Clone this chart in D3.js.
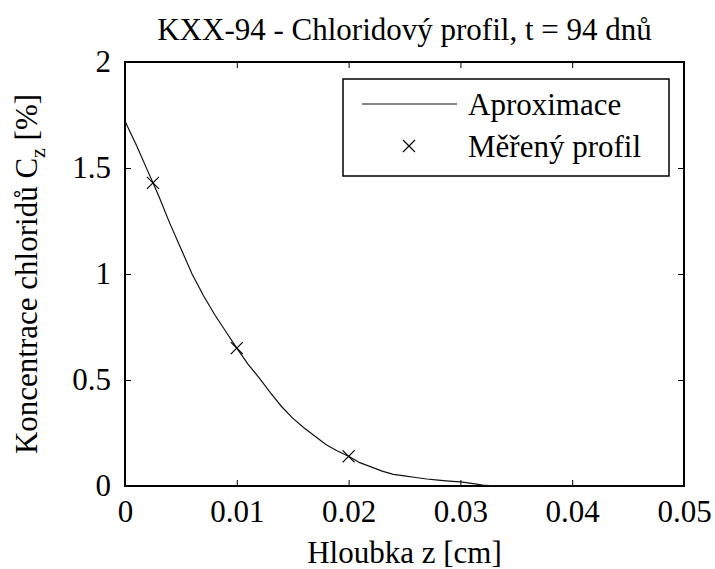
<!DOCTYPE html>
<html>
<head>
<meta charset="utf-8">
<script src="https://cdn.jsdelivr.net/npm/d3@7"></script>
<style>
  body { margin: 0; background: #fff; }
</style>
</head>
<body>
<div id="chart"></div>
<script>
// approximation curve
var approxX = [0, 0.001, 0.002, 0.0025, 0.003, 0.004, 0.005, 0.006, 0.007, 0.008, 0.009, 0.010,
  0.011, 0.012, 0.013, 0.014, 0.015, 0.016, 0.017, 0.018, 0.019, 0.020, 0.021, 0.022, 0.023,
  0.024, 0.025, 0.026, 0.027, 0.028, 0.029, 0.030, 0.031, 0.032, 0.033, 0.05]
var approxY = [1.72, 1.61, 1.49, 1.43, 1.37, 1.24, 1.12, 1.00, 0.90, 0.81, 0.73, 0.65,
  0.575, 0.51, 0.44, 0.375, 0.32, 0.275, 0.235, 0.195, 0.165, 0.14, 0.11, 0.09, 0.07,
  0.055, 0.048, 0.04, 0.033, 0.028, 0.023, 0.019, 0.012, 0.004, 0.001, 0.0]

// measured profile
var measX = [0.0025, 0.01, 0.02]
var measY = [1.43, 0.65, 0.14]

var xTicks = [0, 0.01, 0.02, 0.03, 0.04, 0.05]
var yTicks = [0, 0.5, 1, 1.5, 2]
var legendLabels = ['Aproximace', 'Měřený profil']

var W = 715, H = 569
var margin = {top: 62, right: 31, bottom: 83, left: 125}
var fs = '31px'
var font = 'Liberation Serif'

// set font with !important so nothing else overrides it
var setFont = function(sel, size) {
  sel.style('font-family', font, 'important').style('font-size', size || fs, 'important')
}

var svg = d3.select('#chart').append('svg').attr('width', W).attr('height', H)
var iw = W - margin.left - margin.right
var ih = H - margin.top - margin.bottom

var x = d3.scaleLinear().domain([0, 0.05]).range([0, iw])
var y = d3.scaleLinear().domain([0, 2]).range([ih, 0])

var g = svg.append('g').attr('transform', 'translate(' + margin.left + ',' + margin.top + ')')

// ticks (inward, on all four sides)
var fmt = function(d) { return d3.format('')(+d.toFixed(2)) }
g.append('g').attr('transform', 'translate(0,' + ih + ')')
  .call(d3.axisBottom(x).tickValues(xTicks).tickSize(-6).tickPadding(14).tickFormat(fmt))
g.append('g')
  .call(d3.axisTop(x).tickValues(xTicks).tickSize(-6).tickFormat(''))
g.append('g')
  .call(d3.axisLeft(y).tickValues(yTicks).tickSize(-6).tickPadding(14).tickFormat(fmt))
g.append('g').attr('transform', 'translate(' + iw + ',0)')
  .call(d3.axisRight(y).tickValues(yTicks).tickSize(-6).tickFormat(''))

g.selectAll('.domain').remove()
g.selectAll('g').attr('font-family', null).attr('font-size', null)
g.selectAll('.tick line').attr('stroke', '#000').attr('stroke-width', 1)
g.selectAll('.tick text').attr('fill', '#000').call(setFont)

// frame
g.append('rect').attr('width', iw).attr('height', ih)
  .attr('fill', 'none').attr('stroke', '#000').attr('stroke-width', 2)

// approximation line
var line = d3.line().x(function(d) { return x(d[0]) }).y(function(d) { return y(d[1]) })
g.append('path')
  .datum(d3.zip(approxX, approxY))
  .attr('d', line)
  .attr('fill', 'none').attr('stroke', '#111').attr('stroke-width', 1.2)

// x markers
var cross = function(sel, s) {
  sel.append('path')
    .attr('d', 'M' + (-s) + ',' + (-s) + 'L' + s + ',' + s + 'M' + (-s) + ',' + s + 'L' + s + ',' + (-s))
    .attr('stroke', '#000').attr('stroke-width', 1.2).attr('fill', 'none')
}
g.selectAll('.mark').data(d3.zip(measX, measY)).enter()
  .append('g').attr('class', 'mark')
  .attr('transform', function(d) { return 'translate(' + x(d[0]) + ',' + y(d[1]) + ')' })
  .each(function() { cross(d3.select(this), 6) })

// legend
var lg = svg.append('g').attr('transform', 'translate(343,79)')
lg.append('rect').attr('width', 326).attr('height', 97)
  .attr('fill', '#fff').attr('stroke', '#000').attr('stroke-width', 1.5)
lg.append('line').attr('x1', 19).attr('x2', 114).attr('y1', 25).attr('y2', 25)
  .attr('stroke', '#111').attr('stroke-width', 1.2)
cross(lg.append('g').attr('transform', 'translate(66,67)'), 6)
lg.selectAll('text.lab').data(legendLabels).enter().append('text')
  .attr('class', 'lab')
  .attr('x', 125).attr('y', function(d, i) { return 36 + i * 42 })
  .call(setFont)
  .text(function(d) { return d })

// title
svg.append('text')
  .attr('x', margin.left + iw / 2).attr('y', 40)
  .attr('text-anchor', 'middle')
  .call(setFont)
  .text('KXX-94 - Chloridový profil, t = 94 dnů')

// x label
svg.append('text')
  .attr('x', margin.left + iw / 2).attr('y', 563)
  .attr('text-anchor', 'middle')
  .call(setFont)
  .text('Hloubka z [cm]')

// y label with subscript
var yl = svg.append('text')
  .attr('transform', 'translate(37,' + (margin.top + ih / 2) + ') rotate(-90)')
  .attr('text-anchor', 'middle')
  .call(setFont)
yl.append('tspan').text('Koncentrace chloridů C')
yl.append('tspan').attr('dy', 8).call(setFont, '22px').text('z')
yl.append('tspan').attr('dy', -8).text(' [%]')
</script>
</body>
</html>
